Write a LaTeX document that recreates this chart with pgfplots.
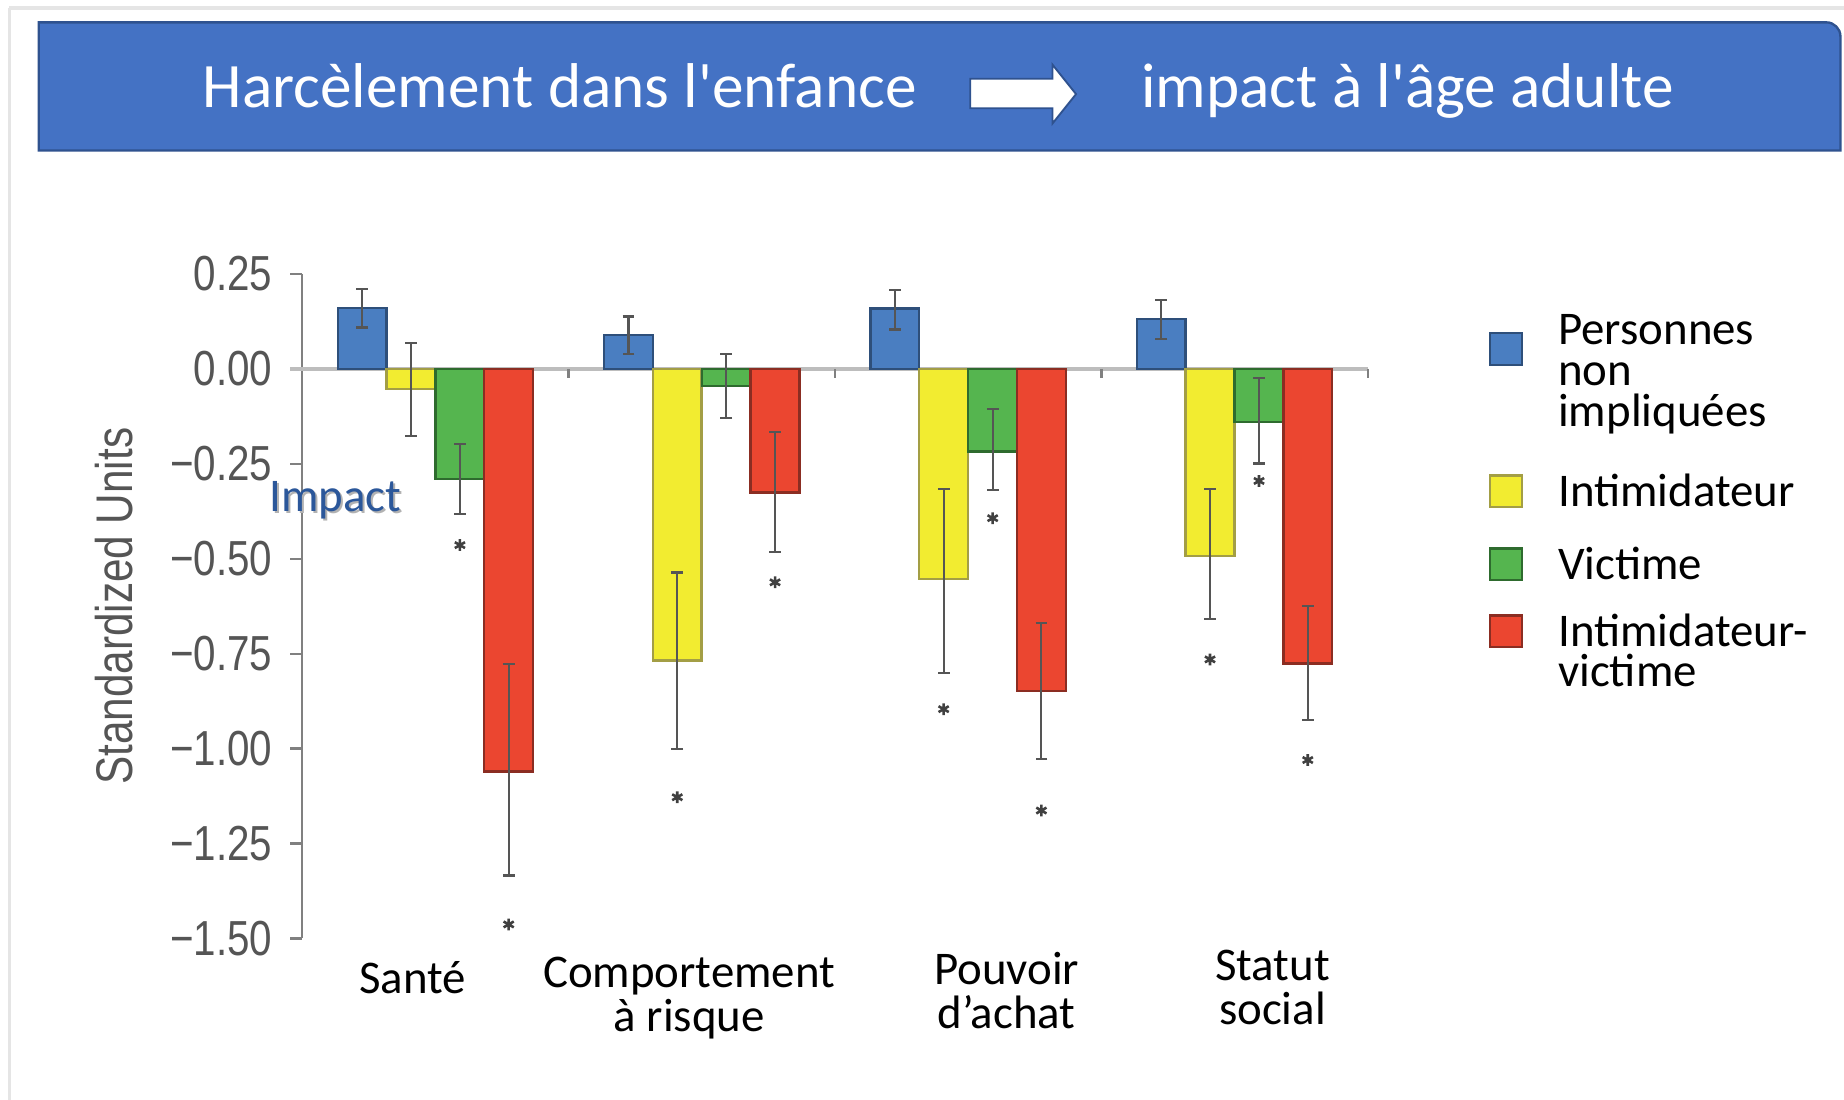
\documentclass[border=0pt]{standalone}
\usepackage{pgfplots}
\pgfplotsset{compat=1.18}
\usepackage{pgfplotstable}
\usepackage{fontspec}
\setmainfont{Carlito}
\newfontfamily\titlefont[Ligatures=TeXOff]{Carlito}
\newfontfamily\narrowfont[FakeStretch=0.82]{Liberation Sans}
\definecolor{cblue}{HTML}{4A7EC1}
\definecolor{cbluee}{HTML}{2E4F7A}
\definecolor{cyellow}{HTML}{F2EC30}
\definecolor{cyellowe}{HTML}{A39E45}
\definecolor{cgreen}{HTML}{55B54F}
\definecolor{cgreene}{HTML}{2E6B2E}
\definecolor{cred}{HTML}{EB4630}
\definecolor{crede}{HTML}{8B2D22}
\definecolor{bannerblue}{HTML}{4472C4}
\definecolor{bannerdark}{HTML}{2F528F}
\definecolor{tickgray}{HTML}{555555}
\definecolor{axisgray}{HTML}{808080}
\definecolor{zerogray}{HTML}{BDBDBD}
\definecolor{errgray}{HTML}{555555}
\definecolor{impactblue}{HTML}{2B579A}

% bar centre (group index + offset), value, error plus, error minus
\pgfplotstableread{
x y ep em
-0.275 0.161 0.049 0.052
0.725 0.089 0.049 0.050
1.725 0.159 0.050 0.055
2.725 0.131 0.050 0.053
}\tblue
\pgfplotstableread{
x y ep em
-0.092 -0.053 0.122 0.123
0.908 -0.768 0.232 0.232
1.908 -0.554 0.237 0.246
2.908 -0.493 0.176 0.165
}\tyellow
\pgfplotstableread{
x y ep em
0.092 -0.290 0.092 0.092
1.092 -0.045 0.084 0.085
2.092 -0.217 0.111 0.103
3.092 -0.139 0.114 0.110
}\tgreen
\pgfplotstableread{
x y ep em
0.275 -1.060 0.283 0.274
1.275 -0.325 0.160 0.158
2.275 -0.849 0.179 0.178
3.275 -0.776 0.152 0.148
}\tred
% significance stars
\pgfplotstableread{
x y
0.092 -0.464
0.275 -1.463
0.908 -1.128
1.275 -0.562
1.908 -0.896
2.092 -0.393
2.275 -1.163
2.908 -0.765
3.092 -0.295
3.275 -1.030
}\tstars

\pgfplotsset{
  errs/.style={error bars/.cd, y dir=both, y explicit,
    error bar style={line width=0.9bp, draw=errgray},
    error mark options={rotate=90, mark size=2.5bp, line width=0.9bp, draw=errgray}},
  legblue/.style={legend image code/.code={%
    \path[draw=none, fill=none] (0bp,12bp) -- (27bp,0bp);
    \draw[##1, overlay] (0bp,-8.5bp) rectangle (13.5bp,5bp);}},
  legyellow/.style={legend image code/.code={%
    \path[draw=none, fill=none] (0bp,30.3bp) -- (27bp,0bp);
    \draw[##1, overlay] (0bp,-0.5bp) rectangle (13.5bp,13bp);}},
  leggreen/.style={legend image code/.code={%
    \path[draw=none, fill=none] (0bp,27.5bp) -- (27bp,0bp);
    \draw[##1, overlay] (0bp,-0.5bp) rectangle (13.5bp,13bp);}},
  legred/.style={legend image code/.code={%
    \path[draw=none, fill=none] (0bp,25bp) -- (27bp,0bp);
    \draw[##1, overlay] (0bp,-0.5bp) rectangle (13.5bp,13bp);}},
}

\begin{document}
\begin{tikzpicture}
\useasboundingbox (0,0) rectangle (784bp,-467.5bp);
\begin{scope}[x=0.5bp,y=-0.5bp]
  \draw[line width=1.5bp, color=black!10] (8,7) -- (1568,7);
  \draw[line width=1.5bp, color=black!10] (8,7) -- (8,935);
  \filldraw[fill=bannerblue, draw=bannerdark, line width=1bp]
    (33,128) -- (33,19) -- (1550,19) [rounded corners=6bp] -- (1565,19) -- (1565,60) [sharp corners] -- (1565,128) -- cycle;
  \filldraw[fill=white, draw=bannerdark, line width=0.8bp]
    (825,67) -- (895,67) -- (895,55) -- (915,80) -- (895,105) -- (895,92) -- (825,92) -- cycle;
  \node[anchor=base west, inner sep=0, text=white, font=\titlefont\fontsize{27}{27}\selectfont] at (172,91) {Harcèlement dans l'enfance};
  \node[anchor=base west, inner sep=0, text=white, font=\titlefont\fontsize{27}{27}\selectfont] at (970,91) {impact à l'âge adulte};
  % category labels
  \node[anchor=base, inner sep=0, font=\fontsize{20}{16.5}\selectfont] at (351,845) {Santé};
  \node[anchor=base, inner sep=0, font=\fontsize{20}{16.5}\selectfont] at (586,840) {\begin{tabular}[t]{@{}c@{}}Comportement\\à risque\end{tabular}};
  \node[anchor=base, inner sep=0, font=\fontsize{20}{16.5}\selectfont] at (856,837) {\begin{tabular}[t]{@{}c@{}}Pouvoir\\d’achat\end{tabular}};
  \node[anchor=base, inner sep=0, font=\fontsize{20}{16.5}\selectfont] at (1082,834) {\begin{tabular}[t]{@{}c@{}}Statut\\social\end{tabular}};
\end{scope}

\begin{axis}[
  at={(128.5bp,-399bp)}, anchor=south west,
  scale only axis, width=453bp, height=282.5bp,
  xmin=-0.5, xmax=3.5, ymin=-1.5, ymax=0.25,
  clip=false,
  axis x line=none, axis y line=left,
  axis line style={-, draw=axisgray, line width=1bp},
  ytick={-1.5,-1.25,-1,-0.75,-0.5,-0.25,0,0.25},
  yticklabels={−1.50,−1.25,−1.00,−0.75,−0.50,−0.25,0.00,0.25},
  yticklabel style={font=\narrowfont\fontsize{21}{21}\selectfont, text=tickgray, inner sep=0pt, xshift=-7.5bp},
  ytick style={draw=axisgray, line width=1bp},
  tick align=outside, major tick length=5bp,
  ylabel={Standardized Units},
  every axis y label/.style={at={(axis description cs:-0.1766,0.5)}, rotate=90, anchor=center,
    font=\narrowfont\fontsize{22}{22}\selectfont, text=tickgray},
  legend style={draw=none, fill=none, at={(1.1148,0.9425)}, anchor=north west,
    inner sep=0pt, outer sep=0pt, row sep=0pt, column sep=0pt,
    font=\fontsize{20}{17}\selectfont,
    cells={anchor=base west, inner sep=0pt, text height=11.9bp, text depth=5.1bp}},
]
\draw[zerogray, line width=1.5bp] (axis cs:-0.545,0) -- (axis cs:3.5,0);
\pgfplotsinvokeforeach{0.5,1.5,2.5,3.5}{\draw[axisgray, line width=1bp] (axis cs:#1,0) -- ++(0pt,-4bp);}

\addplot[ybar, bar width=0.183, bar shift=0pt, fill=cblue, draw=cbluee, line width=1bp, legblue, errs]
  table[x=x, y=y, y error plus=ep, y error minus=em] {\tblue};
\addlegendentry{Personnes}
\addlegendimage{empty legend}
\addlegendentry{non}
\addlegendimage{empty legend}
\addlegendentry{impliquées}
\addplot[ybar, bar width=0.183, bar shift=0pt, fill=cyellow, draw=cyellowe, line width=1bp, legyellow, errs]
  table[x=x, y=y, y error plus=ep, y error minus=em] {\tyellow};
\addlegendentry{Intimidateur}
\addplot[ybar, bar width=0.183, bar shift=0pt, fill=cgreen, draw=cgreene, line width=1bp, leggreen, errs]
  table[x=x, y=y, y error plus=ep, y error minus=em] {\tgreen};
\addlegendentry{Victime}
\addplot[ybar, bar width=0.183, bar shift=0pt, fill=cred, draw=crede, line width=1bp, legred, errs]
  table[x=x, y=y, y error plus=ep, y error minus=em] {\tred};
\addlegendentry{Intimidateur-}
\addlegendimage{empty legend}
\addlegendentry{victime}

\addplot[only marks, mark=asterisk, mark size=2.5bp, mark options={line width=1.1bp, draw=black!75}, forget plot]
  table[x=x, y=y] {\tstars};

\node[anchor=base west, inner sep=0, text=black!30, font=\fontsize{20}{20}\selectfont] at (axis cs:-0.618,-0.381) {Impact};
\node[anchor=base west, inner sep=0, text=impactblue, font=\fontsize{20}{20}\selectfont] at (axis cs:-0.625,-0.376) {Impact};
\end{axis}
\end{tikzpicture}
\end{document}
